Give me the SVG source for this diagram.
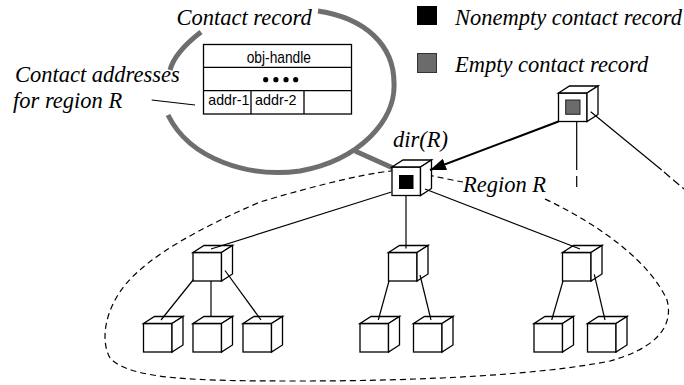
<svg xmlns="http://www.w3.org/2000/svg" width="684" height="385" viewBox="0 0 684 385">
<style>
.it{font-family:"Liberation Serif","Times New Roman","DejaVu Serif",serif;font-style:italic;font-size:22.5px;fill:#000}
.sf{font-family:"Liberation Sans",Arial,sans-serif;fill:#000}
.cb{fill:#fff;stroke:#000;stroke-width:1.3;stroke-linejoin:miter}
.ln{stroke:#000;stroke-width:1.2;fill:none}
.dash{stroke:#000;stroke-width:1.2;fill:none;stroke-dasharray:6 4}
.bub{stroke:#6e6e6e;stroke-width:5;fill:none}
.tb{fill:#fff;stroke:#000;stroke-width:1.3}
.tl{stroke:#000;stroke-width:1.3}
</style>
<defs>
<g id="cube">
<rect class="cb" x="0" y="0" width="28.5" height="28.5"/>
<path class="cb" d="M0 0 L11 -7 L39.5 -7 L28.5 0 Z"/>
<path class="cb" d="M28.5 0 L39.5 -7 L39.5 21.5 L28.5 28.5 Z"/>
</g>
<marker id="ah" markerWidth="16" markerHeight="12" refX="16" refY="6" orient="auto" markerUnits="userSpaceOnUse">
<path d="M0 0 L16 6 L0 12 Z" fill="#000"/>
</marker>
</defs>

<g id="region">
<path class="dash" d="M545 199 C600 225 650 262 667 300 C675 330 650 350 610 361 C540 375 420 381 300 381 C200 381 130 380 110 358 C100 340 105 310 125 285 C150 255 200 228 260 202 C300 190 360 174 391 171 C410 170 440 178 463 182"/>
</g>

<g id="bubble">
<path class="bub" d="M318 11 C365 18 394 45 394 83 C396 120 360 160 300 171 C250 178 190 160 168 115"/>
<path class="bub" d="M201 32 C188 42 174 55 170 70"/>
<line class="bub" x1="355" y1="151" x2="393" y2="168"/>
</g>

<g id="record">
<rect class="tb" x="203.5" y="44.5" width="148" height="69.5"/>
<line class="tl" x1="203.5" y1="67.3" x2="351.5" y2="67.3"/>
<line class="tl" x1="203.5" y1="90.7" x2="351.5" y2="90.7"/>
<line class="tl" x1="251" y1="90.7" x2="251" y2="114"/>
<line class="tl" x1="304" y1="90.7" x2="304" y2="114"/>
<text class="sf" x="246.7" y="63" font-size="17" textLength="64.3" lengthAdjust="spacingAndGlyphs">obj-handle</text>
<circle cx="265.7" cy="79.7" r="2.6"/>
<circle cx="275.9" cy="79.7" r="2.6"/>
<circle cx="286" cy="79.7" r="2.6"/>
<circle cx="295.7" cy="79.7" r="2.6"/>
<text class="sf" x="208.3" y="104.7" font-size="15" textLength="41" lengthAdjust="spacingAndGlyphs">addr-1</text>
<text class="sf" x="255" y="104.7" font-size="15" textLength="41.5" lengthAdjust="spacingAndGlyphs">addr-2</text>
</g>

<g id="labels">
<text class="it" x="176.5" y="25">Contact record</text>
<text class="it" x="15" y="81.5">Contact addresses</text>
<text class="it" x="13" y="108">for region R</text>
<line class="ln" x1="151.7" y1="100" x2="195" y2="105"/>
<text class="it" x="393" y="146.5">dir(R)</text>
<text class="it" x="463" y="191.5">Region R</text>
</g>

<g id="legend">
<rect x="417" y="6" width="20" height="19" fill="#000"/>
<text class="it" x="455" y="25">Nonempty contact record</text>
<rect x="417.5" y="53.5" width="19" height="19" fill="#6b6b6b" stroke="#333" stroke-width="1"/>
<text class="it" x="455" y="71.7">Empty contact record</text>
</g>

<g id="node-dir"><use href="#cube" x="392" y="167"/><rect x="399" y="175" width="14.5" height="14" fill="#000"/></g>
<g id="node-top"><use href="#cube" x="558.5" y="93"/><rect x="565.7" y="100" width="14.3" height="14.3" fill="#6b6b6b" stroke="#222" stroke-width="1"/></g>
<g id="node-lmid"><use href="#cube" x="193" y="252.5"/></g>
<g id="node-mmid"><use href="#cube" x="388.5" y="252.5"/></g>
<g id="node-rmid"><use href="#cube" x="562.5" y="252.5"/></g>
<g id="node-l1"><use href="#cube" x="143.5" y="323.5"/></g>
<g id="node-l2"><use href="#cube" x="193" y="323.5"/></g>
<g id="node-l3"><use href="#cube" x="243" y="323.5"/></g>
<g id="node-m1"><use href="#cube" x="360" y="323.5"/></g>
<g id="node-m2"><use href="#cube" x="413.5" y="323.5"/></g>
<g id="node-r1"><use href="#cube" x="534" y="323.5"/></g>
<g id="node-r2"><use href="#cube" x="587.5" y="323.5"/></g>

<g id="connectors">
<line class="ln" x1="391.5" y1="192" x2="211" y2="249"/>
<line class="ln" x1="406" y1="196" x2="406" y2="248.5"/>
<line class="ln" x1="425" y1="189" x2="580" y2="249"/>
<line class="ln" x1="193.5" y1="279.5" x2="161" y2="320"/>
<line class="ln" x1="211" y1="281" x2="211" y2="317"/>
<line class="ln" x1="225" y1="270.5" x2="261" y2="320"/>
<line class="ln" x1="389" y1="281" x2="378.3" y2="320"/>
<line class="ln" x1="420" y1="275" x2="431" y2="320"/>
<line class="ln" x1="563" y1="281" x2="551.7" y2="320"/>
<line class="ln" x1="594.3" y1="274.3" x2="605" y2="320"/>
<line x1="558.5" y1="121.5" x2="430" y2="170" stroke="#000" stroke-width="2" marker-end="url(#ah)"/>
<line class="ln" x1="576.7" y1="121.5" x2="576.7" y2="170"/>
<line class="ln" x1="576.7" y1="176" x2="576.7" y2="187"/>
<line class="ln" x1="590.7" y1="111.7" x2="661.7" y2="170"/>
<line class="ln" x1="664" y1="172" x2="684" y2="189" style="stroke-dasharray:8 4"/>
</g>
</svg>
